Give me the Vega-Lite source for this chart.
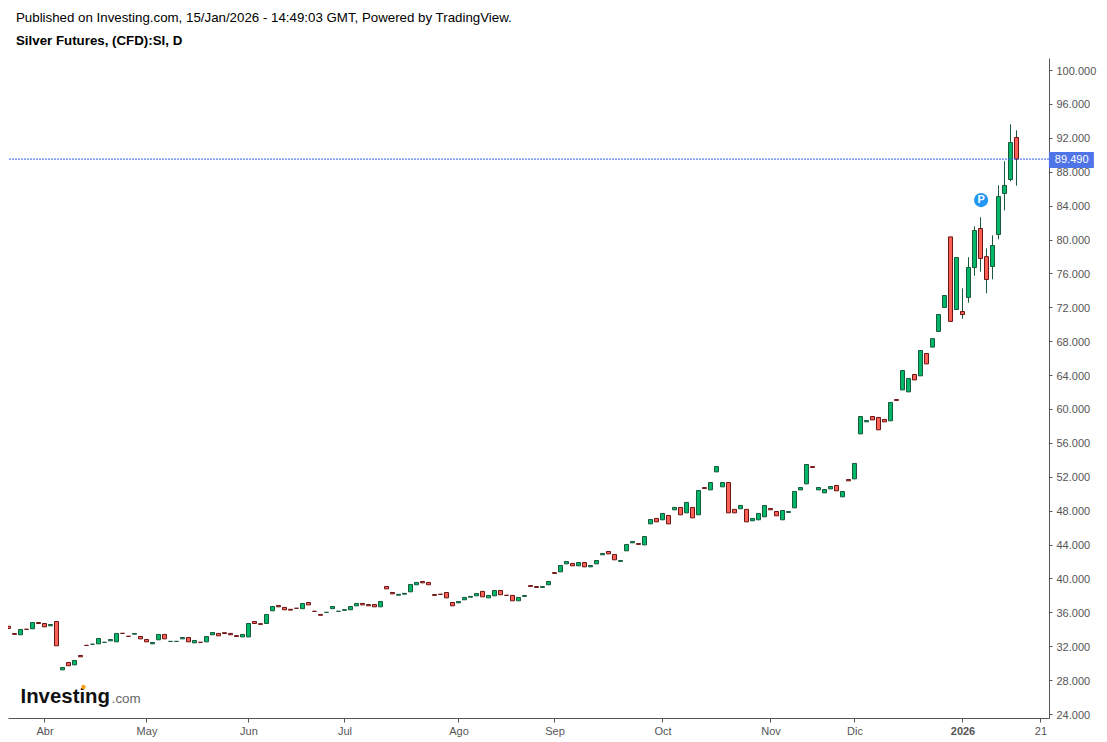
{
"$schema":"https://vega.github.io/schema/vega-lite/v6.json",
"width":1041,"height":660,"autosize":"none","padding":{"left":8,"top":58,"right":58,"bottom":24},
"background":"white",
"title":{"text":"Published on Investing.com, 15/Jan/2026 - 14:49:03 GMT, Powered by TradingView.","subtitle":"Silver Futures, (CFD):SI, D","anchor":"start","frame":"group","dx":8,"offset":11,"font":"Liberation Sans","fontSize":13.3,"fontWeight":"normal","color":"#000000","subtitleFont":"Liberation Sans","subtitleFontSize":13.3,"subtitleFontWeight":"bold","subtitleColor":"#000000","subtitlePadding":9},
"config":{"view":{"stroke":null}},
"datasets":{"candles":[
{"i":0,"open":34.35,"close":34.1,"dir":"down"},
{"i":1,"open":33.5,"close":33.4,"dir":"down"},
{"i":2,"open":33.35,"close":33.98,"dir":"up"},
{"i":3,"open":34.0,"close":34.0,"dir":"down"},
{"i":4,"open":34.06,"close":34.8,"dir":"up"},
{"i":5,"open":34.8,"close":34.68,"dir":"down"},
{"i":6,"open":34.68,"close":34.29,"dir":"down"},
{"i":7,"open":34.41,"close":34.56,"dir":"up"},
{"i":8,"open":34.92,"close":32.05,"dir":"down"},
{"i":9,"open":29.21,"close":29.49,"dir":"up"},
{"i":10,"open":30.08,"close":29.7,"dir":"down"},
{"i":11,"open":29.8,"close":30.32,"dir":"up"},
{"i":12,"open":30.91,"close":30.75,"dir":"down"},
{"i":13,"open":32.1,"close":32.1,"dir":"down"},
{"i":14,"open":32.23,"close":32.23,"dir":"up"},
{"i":15,"open":32.28,"close":32.91,"dir":"up"},
{"i":16,"open":32.46,"close":32.46,"dir":"up"},
{"i":17,"open":32.64,"close":32.79,"dir":"up"},
{"i":18,"open":32.52,"close":33.51,"dir":"up"},
{"i":19,"open":33.52,"close":33.52,"dir":"down"},
{"i":20,"open":33.17,"close":33.17,"dir":"down"},
{"i":21,"open":33.42,"close":33.5,"dir":"up"},
{"i":22,"open":33.15,"close":32.87,"dir":"down"},
{"i":23,"open":32.79,"close":32.52,"dir":"down"},
{"i":24,"open":32.28,"close":32.44,"dir":"up"},
{"i":25,"open":32.76,"close":33.39,"dir":"up"},
{"i":26,"open":33.39,"close":32.87,"dir":"down"},
{"i":27,"open":32.57,"close":32.57,"dir":"up"},
{"i":28,"open":32.57,"close":32.57,"dir":"up"},
{"i":29,"open":32.87,"close":33.03,"dir":"up"},
{"i":30,"open":33.03,"close":32.52,"dir":"down"},
{"i":31,"open":32.4,"close":32.68,"dir":"up"},
{"i":32,"open":32.46,"close":32.46,"dir":"down"},
{"i":33,"open":32.52,"close":33.15,"dir":"up"},
{"i":34,"open":33.35,"close":33.62,"dir":"up"},
{"i":35,"open":33.51,"close":33.23,"dir":"down"},
{"i":36,"open":33.6,"close":33.5,"dir":"down"},
{"i":37,"open":33.51,"close":33.35,"dir":"down"},
{"i":38,"open":33.25,"close":33.15,"dir":"down"},
{"i":39,"open":33.1,"close":33.39,"dir":"up"},
{"i":40,"open":33.1,"close":34.68,"dir":"up"},
{"i":41,"open":34.92,"close":34.68,"dir":"down"},
{"i":42,"open":34.66,"close":34.58,"dir":"down"},
{"i":43,"open":34.68,"close":35.75,"dir":"up"},
{"i":44,"open":36.18,"close":36.69,"dir":"up"},
{"i":45,"open":36.81,"close":36.65,"dir":"down"},
{"i":46,"open":36.58,"close":36.3,"dir":"down"},
{"i":47,"open":36.36,"close":36.26,"dir":"down"},
{"i":48,"open":36.48,"close":36.48,"dir":"down"},
{"i":49,"open":36.43,"close":37.04,"dir":"up"},
{"i":50,"open":37.16,"close":36.88,"dir":"down"},
{"i":51,"open":36.12,"close":36.12,"dir":"down"},
{"i":52,"open":35.75,"close":35.65,"dir":"down"},
{"i":53,"open":36.0,"close":36.0,"dir":"up"},
{"i":54,"open":36.43,"close":36.69,"dir":"up"},
{"i":55,"open":36.12,"close":36.12,"dir":"up"},
{"i":56,"open":36.24,"close":36.32,"dir":"up"},
{"i":57,"open":36.3,"close":36.69,"dir":"up"},
{"i":58,"open":36.77,"close":37.05,"dir":"up"},
{"i":59,"open":37.05,"close":36.88,"dir":"down"},
{"i":60,"open":36.92,"close":36.77,"dir":"down"},
{"i":61,"open":36.92,"close":36.65,"dir":"down"},
{"i":62,"open":36.65,"close":37.28,"dir":"up"},
{"i":63,"open":39.05,"close":38.77,"dir":"down"},
{"i":64,"open":38.34,"close":38.18,"dir":"down"},
{"i":65,"open":38.02,"close":38.12,"dir":"up"},
{"i":66,"open":38.14,"close":38.24,"dir":"up"},
{"i":67,"open":38.42,"close":39.29,"dir":"up"},
{"i":68,"open":39.25,"close":39.53,"dir":"up"},
{"i":69,"open":39.64,"close":39.48,"dir":"down"},
{"i":70,"open":39.53,"close":39.25,"dir":"down"},
{"i":71,"open":38.1,"close":38.0,"dir":"down"},
{"i":72,"open":38.13,"close":38.13,"dir":"down"},
{"i":73,"open":38.34,"close":37.71,"dir":"down"},
{"i":74,"open":37.16,"close":36.77,"dir":"down"},
{"i":75,"open":37.12,"close":37.28,"dir":"up"},
{"i":76,"open":37.48,"close":37.76,"dir":"up"},
{"i":77,"open":37.78,"close":37.88,"dir":"up"},
{"i":78,"open":37.95,"close":38.23,"dir":"up"},
{"i":79,"open":38.47,"close":37.83,"dir":"down"},
{"i":80,"open":37.71,"close":38.0,"dir":"up"},
{"i":81,"open":37.95,"close":38.58,"dir":"up"},
{"i":82,"open":38.58,"close":38.07,"dir":"down"},
{"i":83,"open":38.01,"close":38.01,"dir":"down"},
{"i":84,"open":38.0,"close":37.36,"dir":"down"},
{"i":85,"open":37.36,"close":37.76,"dir":"up"},
{"i":86,"open":37.88,"close":37.98,"dir":"up"},
{"i":87,"open":39.16,"close":39.06,"dir":"down"},
{"i":88,"open":39.04,"close":38.94,"dir":"down"},
{"i":89,"open":38.94,"close":39.04,"dir":"up"},
{"i":90,"open":39.25,"close":39.64,"dir":"up"},
{"i":91,"open":40.69,"close":40.59,"dir":"down"},
{"i":92,"open":40.78,"close":41.53,"dir":"up"},
{"i":93,"open":41.72,"close":42.0,"dir":"up"},
{"i":94,"open":41.77,"close":41.49,"dir":"down"},
{"i":95,"open":41.49,"close":41.88,"dir":"up"},
{"i":96,"open":41.88,"close":41.37,"dir":"down"},
{"i":97,"open":41.37,"close":41.53,"dir":"up"},
{"i":98,"open":41.72,"close":42.12,"dir":"up"},
{"i":99,"open":42.79,"close":42.95,"dir":"up"},
{"i":100,"open":43.18,"close":42.9,"dir":"down"},
{"i":101,"open":42.83,"close":42.2,"dir":"down"},
{"i":102,"open":42.01,"close":42.11,"dir":"up"},
{"i":103,"open":43.26,"close":44.01,"dir":"up"},
{"i":104,"open":44.2,"close":44.36,"dir":"up"},
{"i":105,"open":44.12,"close":44.02,"dir":"down"},
{"i":106,"open":43.96,"close":44.95,"dir":"up"},
{"i":107,"open":46.44,"close":46.96,"dir":"up"},
{"i":108,"open":47.08,"close":46.68,"dir":"down"},
{"i":109,"open":46.92,"close":47.67,"dir":"up"},
{"i":110,"open":47.43,"close":46.44,"dir":"down"},
{"i":111,"open":48.1,"close":48.38,"dir":"up"},
{"i":112,"open":48.38,"close":47.51,"dir":"down"},
{"i":113,"open":47.74,"close":48.97,"dir":"up"},
{"i":114,"open":48.38,"close":47.15,"dir":"down"},
{"i":115,"open":47.51,"close":50.38,"dir":"up"},
{"i":116,"open":50.72,"close":50.62,"dir":"down"},
{"i":117,"open":50.45,"close":51.32,"dir":"up"},
{"i":118,"open":52.58,"close":53.21,"dir":"up"},
{"i":119,"open":50.81,"close":51.32,"dir":"up"},
{"i":120,"open":51.32,"close":47.74,"dir":"down"},
{"i":121,"open":48.15,"close":47.74,"dir":"down"},
{"i":122,"open":48.22,"close":48.62,"dir":"up"},
{"i":123,"open":48.15,"close":46.68,"dir":"down"},
{"i":124,"open":46.8,"close":47.08,"dir":"up"},
{"i":125,"open":46.92,"close":47.67,"dir":"up"},
{"i":126,"open":47.27,"close":48.61,"dir":"up"},
{"i":127,"open":48.26,"close":48.1,"dir":"down"},
{"i":128,"open":47.9,"close":47.39,"dir":"down"},
{"i":129,"open":46.92,"close":48.02,"dir":"up"},
{"i":130,"open":47.79,"close":47.89,"dir":"up"},
{"i":131,"open":48.33,"close":50.26,"dir":"up"},
{"i":132,"open":50.45,"close":50.73,"dir":"up"},
{"i":133,"open":51.16,"close":53.45,"dir":"up"},
{"i":134,"open":53.2,"close":53.1,"dir":"down"},
{"i":135,"open":50.45,"close":50.73,"dir":"up"},
{"i":136,"open":50.1,"close":50.5,"dir":"up"},
{"i":137,"open":50.57,"close":50.85,"dir":"up"},
{"i":138,"open":50.97,"close":50.34,"dir":"down"},
{"i":139,"open":49.63,"close":50.26,"dir":"up"},
{"i":140,"open":51.67,"close":51.52,"dir":"down"},
{"i":141,"open":51.75,"close":53.57,"dir":"up"},
{"i":142,"open":57.06,"close":59.11,"dir":"up"},
{"i":143,"open":58.48,"close":58.64,"dir":"up"},
{"i":144,"open":59.11,"close":58.71,"dir":"down"},
{"i":145,"open":59.0,"close":57.54,"dir":"down"},
{"i":146,"open":58.76,"close":58.48,"dir":"down"},
{"i":147,"open":58.6,"close":60.77,"dir":"up"},
{"i":148,"open":61.11,"close":61.01,"dir":"down"},
{"i":149,"open":62.25,"close":64.54,"dir":"up"},
{"i":150,"open":62.02,"close":63.6,"dir":"up"},
{"i":151,"open":64.07,"close":63.43,"dir":"down"},
{"i":152,"open":63.91,"close":66.9,"dir":"up"},
{"i":153,"open":66.55,"close":65.32,"dir":"down"},
{"i":154,"open":67.3,"close":68.3,"dir":"up"},
{"i":155,"open":69.15,"close":71.15,"dir":"up"},
{"i":156,"open":71.98,"close":73.39,"dir":"up"},
{"i":157,"open":80.31,"close":70.33,"dir":"down"},
{"i":158,"open":71.74,"close":77.88,"dir":"up"},
{"i":159,"open":71.5,"close":71.15,"dir":"down","low":70.65,"high":74.24},
{"i":160,"open":73.16,"close":76.7,"dir":"up","low":72.54,"high":77.9},
{"i":161,"open":76.7,"close":81.06,"dir":"up","low":75.73,"high":81.55},
{"i":162,"open":81.3,"close":77.76,"dir":"down","low":76.2,"high":82.62},
{"i":163,"open":77.98,"close":75.28,"dir":"down","low":73.65,"high":78.96},
{"i":164,"open":76.82,"close":79.29,"dir":"up","low":75.3,"high":80.49},
{"i":165,"open":80.59,"close":85.08,"dir":"up","low":80.02,"high":86.4},
{"i":166,"open":85.43,"close":86.38,"dir":"up","low":83.44,"high":89.23},
{"i":167,"open":87.08,"close":91.45,"dir":"up","low":86.87,"high":93.59},
{"i":168,"open":92.04,"close":89.49,"dir":"down","low":86.35,"high":92.88}
]},
"layer":[
{"data":{"name":"candles"},"mark":{"type":"rule","color":"#17593a","strokeWidth":1},
 "encoding":{
  "x":{"field":"i","type":"quantitative","scale":{"domain":[-0.0833,173.4167],"nice":false,"zero":false,"padding":0},
   "axis":{"title":null,"grid":false,"values":[6,23,40,56,75,91,109,127,141,159,172],
    "labelExpr":"{6:'Abr',23:'May',40:'Jun',56:'Jul',75:'Ago',91:'Sep',109:'Oct',127:'Nov',141:'Dic',159:'2026',172:'21'}[datum.value]",
    "labelFont":"Liberation Sans","labelFontSize":11,"labelColor":"#555555","labelPadding":3,"labelFontWeight":{"condition":{"test":"datum.value == 159","value":"bold"},"value":"normal"},
    "domainColor":"#555555","tickColor":"#555555","tickSize":4,"tickCount":30,"labelOverlap":false,"labelFlush":false}},
  "y":{"field":"low","type":"quantitative","scale":{"domain":[23.53,101.42],"nice":false,"zero":false,"padding":0},
   "axis":{"orient":"right","title":null,"grid":false,"values":[24,28,32,36,40,44,48,52,56,60,64,68,72,76,80,84,88,92,96,100],"format":".3f","tickCount":30,
    "labelFont":"Liberation Sans","labelFontSize":11,"labelColor":"#555555","labelPadding":4,"labelOffset":1,"domainColor":"#555555","tickColor":"#555555","tickSize":3,"labelOverlap":false}},
  "y2":{"field":"high"}}},
{"data":{"name":"candles"},"mark":{"type":"bar","size":4,"strokeWidth":1,"clip":true},
 "encoding":{
  "x":{"field":"i","type":"quantitative"},
  "y":{"field":"open","type":"quantitative"},
  "y2":{"field":"close"},
  "fill":{"field":"dir","type":"nominal","scale":{"domain":["up","down"],"range":["#00b868","#ff6157"]},"legend":null},
  "stroke":{"field":"dir","type":"nominal","scale":{"domain":["up","down"],"range":["#17593a","#6b1414"]},"legend":null}}},
{"data":{"values":[{"price":89.49}]},"mark":{"type":"rule","color":"#2f5fe8","strokeWidth":1,"strokeDash":[2,1]},
 "encoding":{"y":{"field":"price","type":"quantitative"}}},
{"data":{"values":[{"a":173.4,"b":180.9,"lo":88.44,"hi":90.32}]},"mark":{"type":"rect","color":"#4f74e8","clip":false},
 "encoding":{"x":{"field":"a","type":"quantitative"},"x2":{"field":"b"},"y":{"field":"lo","type":"quantitative"},"y2":{"field":"hi"}}},
{"data":{"values":[{"i":177.2,"price":89.49,"label":"89.490"}]},"mark":{"type":"text","color":"#ffffff","font":"Liberation Sans","fontSize":11,"align":"center","baseline":"middle","dy":1},
 "encoding":{"x":{"field":"i","type":"quantitative"},"y":{"field":"price","type":"quantitative"},"text":{"field":"label"}}},
{"data":{"values":[{"i":162.1,"price":84.65}]},"mark":{"type":"point","filled":true,"shape":"circle","size":201,"color":"#2196f3","opacity":1},
 "encoding":{"x":{"field":"i","type":"quantitative"},"y":{"field":"price","type":"quantitative"}}},
{"data":{"values":[{"i":162.1,"price":84.65,"label":"P"}]},"mark":{"type":"text","color":"#ffffff","font":"Liberation Sans","fontSize":11,"fontWeight":"bold","align":"center","baseline":"middle"},
 "encoding":{"x":{"field":"i","type":"quantitative"},"y":{"field":"price","type":"quantitative"},"text":{"field":"label"}}},
{"data":{"values":[{"i":2.0,"price":25.34,"label":"Investing"}]},"mark":{"type":"text","color":"#111111","font":"Liberation Sans","fontSize":20.4,"fontWeight":"bold","align":"left","baseline":"alphabetic"},
 "encoding":{"x":{"field":"i","type":"quantitative"},"y":{"field":"price","type":"quantitative"},"text":{"field":"label"}}},
{"data":{"values":[{"i":17.2,"price":25.34,"label":".com"}]},"mark":{"type":"text","color":"#666666","font":"Liberation Sans","fontSize":13.4,"align":"left","baseline":"alphabetic"},
 "encoding":{"x":{"field":"i","type":"quantitative"},"y":{"field":"price","type":"quantitative"},"text":{"field":"label"}}},
{"data":{"values":[{"i":12.5,"price":27.2}]},"mark":{"type":"point","filled":true,"shape":"circle","size":20,"color":"#f9a11b","opacity":1},
 "encoding":{"x":{"field":"i","type":"quantitative"},"y":{"field":"price","type":"quantitative"}}}
]
}
